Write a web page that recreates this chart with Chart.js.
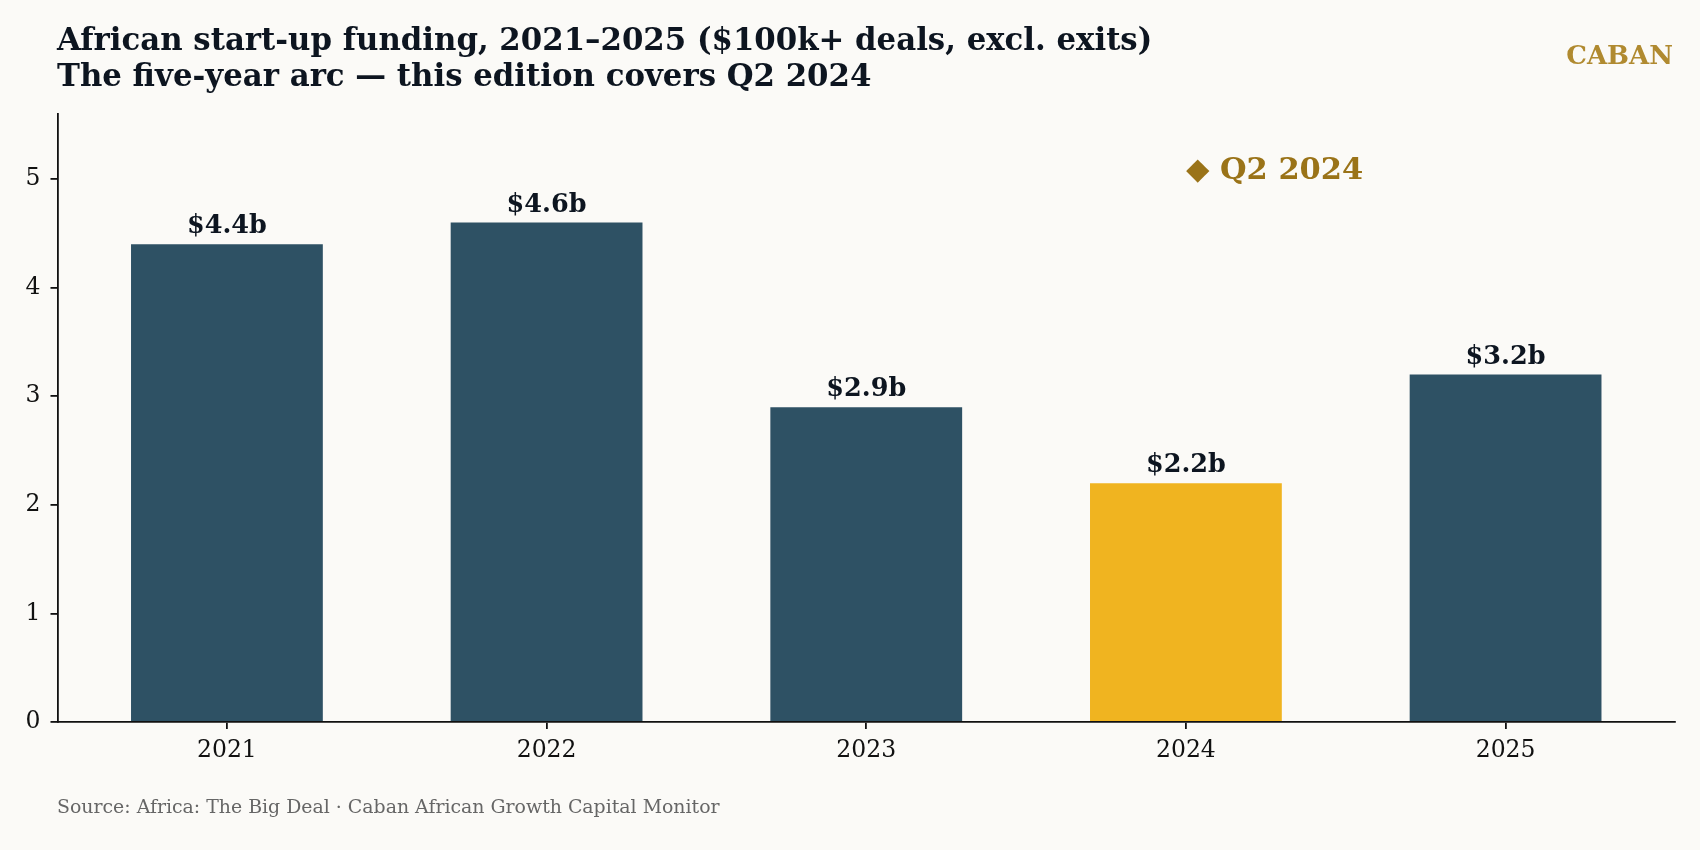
<!DOCTYPE html>
<html>
<head>
<meta charset="utf-8">
<script src="https://cdn.jsdelivr.net/npm/chart.js"></script>
<style>
  html, body { margin: 0; padding: 0; background: #fbfaf7; }
  canvas { display: block; }
</style>
</head>
<body>
<canvas id="chart" width="1700" height="850"></canvas>
<script>
const years = ["2021", "2022", "2023", "2024", "2025"];
const funding = [4.4, 4.6, 2.9, 2.2, 3.2];
const yTicks = [0, 1, 2, 3, 4, 5];
const highlightYear = "2024";
const highlightLabel = "◆ Q2 2024";

const titleLines = [
  "African start-up funding, 2021–2025 ($100k+ deals, excl. exits)",
  "The five-year arc — this edition covers Q2 2024",
];
const brand = "CABAN";
const source = "Source: Africa: The Big Deal · Caban African Growth Capital Monitor";

const FONT = "'DejaVu Serif', serif";
const NAVY = "#2e5164";
const GOLD = "#f0b420";

const overlay = {
  id: "overlay",
  beforeDraw(chart) {
    const ctx = chart.ctx;
    ctx.save();
    ctx.fillStyle = "#fbfaf7";
    ctx.fillRect(0, 0, chart.width, chart.height);
    ctx.restore();
  },
  afterDraw(chart) {
    const ctx = chart.ctx;
    const x = chart.scales.x;
    const y = chart.scales.y;
    ctx.save();

    // title block
    ctx.fillStyle = "#0d1520";
    ctx.font = "bold 30.8px " + FONT;
    ctx.textAlign = "left";
    ctx.textBaseline = "middle";
    ctx.fillText(titleLines[0], 57, 42);
    ctx.fillText(titleLines[1], 57, 78);

    ctx.fillStyle = "#b08a30";
    ctx.font = "bold 26px " + FONT;
    ctx.textAlign = "right";
    ctx.fillText(brand, 1673, 57);

    // value labels
    ctx.fillStyle = "#0d1520";
    ctx.font = "bold 25.5px " + FONT;
    ctx.textAlign = "center";
    ctx.textBaseline = "alphabetic";
    funding.forEach((v, i) => {
      ctx.fillText("$" + v.toFixed(1) + "b", x.getPixelForValue(i), y.getPixelForValue(v) - 11);
    });

    // highlight note
    const hi = years.indexOf(highlightYear);
    ctx.fillStyle = "#9a7318";
    ctx.font = "bold 30.5px " + FONT;
    ctx.textAlign = "left";
    ctx.textBaseline = "middle";
    ctx.fillText(highlightLabel, x.getPixelForValue(hi), y.getPixelForValue(5.07));

    // source
    ctx.fillStyle = "#666666";
    ctx.font = "18.9px " + FONT;
    ctx.fillText(source, 57, 808);
    ctx.restore();
  },
};

new Chart(document.getElementById("chart").getContext("2d"), {
  type: "bar",
  data: {
    datasets: [
      {
        data: funding.map((v, i) => ({ x: i, y: v })),
        backgroundColor: years.map((yr) => (yr === highlightYear ? GOLD : NAVY)),
        categoryPercentage: 0.6,
        barPercentage: 1.0,
        borderWidth: 0,
      },
    ],
  },
  options: {
    responsive: false,
    animation: false,
    devicePixelRatio: 1,
    layout: { padding: { left: 0, top: 114, right: 25, bottom: 68 } },
    plugins: {
      legend: { display: false },
      tooltip: { enabled: false },
    },
    scales: {
      x: {
        type: "linear",
        min: -0.53,
        max: 4.53,
        offset: false,
        afterBuildTicks: (axis) => {
          axis.ticks = years.map((yr, i) => ({ value: i }));
        },
        afterFit: (axis) => {
          axis.height = 60;
        },
        ticks: {
          callback: (v) => years[v],
          color: "#111",
          font: { family: FONT, size: 23.5 },
          padding: 8,
          maxRotation: 0,
        },
        grid: {
          offset: false,
          drawOnChartArea: false,
          drawTicks: true,
          tickLength: 7,
          color: "#111",
          lineWidth: 1.8,
        },
        border: { display: true, color: "#111", width: 1.8 },
      },
      y: {
        min: 0,
        max: 5.6,
        afterBuildTicks: (axis) => {
          axis.ticks = yTicks.map((t) => ({ value: t }));
        },
        afterFit: (axis) => {
          axis.width = 57.5;
        },
        ticks: {
          color: "#111",
          font: { family: FONT, size: 23.5 },
          padding: 10,
        },
        grid: {
          drawOnChartArea: false,
          drawTicks: true,
          tickLength: 7,
          color: "#111",
          lineWidth: 1.8,
        },
        border: { display: true, color: "#111", width: 1.8 },
      },
    },
  },
  plugins: [overlay],
});
</script>
</body>
</html>
